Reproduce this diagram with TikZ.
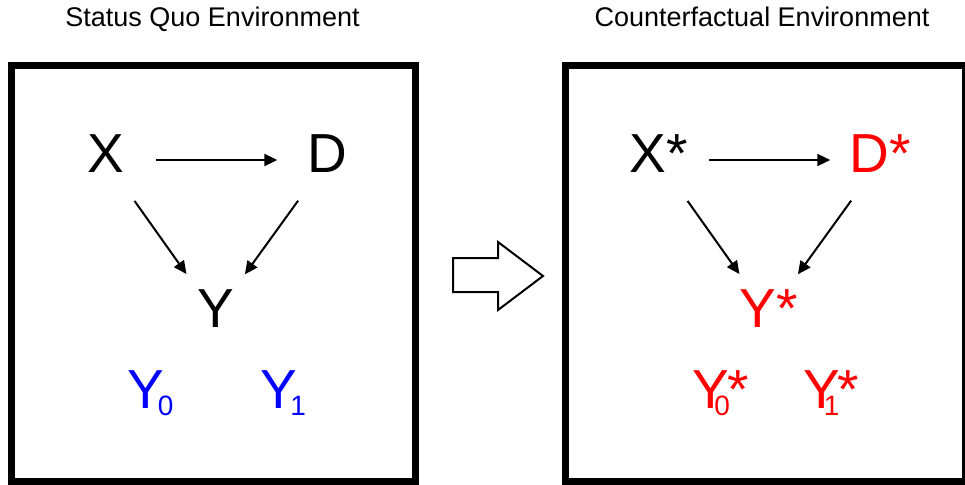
\documentclass[tikz,border=0pt]{standalone}
\usepackage{fontspec}
\setmainfont{Liberation Sans}
\usepackage{xcolor}
\definecolor{sqblue}{RGB}{0, 0, 255}
\definecolor{cfred}{RGB}{255, 0, 0}
\usetikzlibrary{arrows.meta}
\newcommand{\subidx}[2]{\kern#1\raisebox{-7pt}{\fontsize{28}{28}\selectfont #2}}

\begin{document}
\begin{tikzpicture}[
    x=1pt, y=-1pt,
    title/.style={anchor=base, inner sep=0pt, font=\fontsize{27}{27}\selectfont},
    frame/.style={draw, line width=7pt, inner sep=0pt},
    var/.style={circle, minimum size=100pt, inner sep=0pt,
                text height=39.4pt, text depth=14pt,
                font=\fontsize{55}{55}\selectfont},
    pot/.style={anchor=base west, inner sep=0pt,
                font=\fontsize{55}{55}\selectfont},
    arr/.style={-{Triangle[length=13pt, width=12pt]}, line width=2pt}
  ]
  \useasboundingbox (0,0) rectangle (965,484);

  % status quo
  \node[title] (sqtitle) at (212.5,27) {Status Quo Environment};
  \node[frame, minimum width=403.5pt, minimum height=415pt] (sqbox) at (213.25,273.5) {};
  \node[var] (X) at (105.5,160) {X};
  \node[var] (D) at (327.5,160) {D};
  \node[var] (Y) at (215.5,315) {Y};
  \node[pot, sqblue] (Y0) at (127,408) {Y\subidx{-6pt}{0}};
  \node[pot, sqblue] (Y1) at (260,408) {Y\subidx{-6.5pt}{1}};

  \draw[arr] (X) -- (D);
  \draw[arr] (X) -- (Y);
  \draw[arr] (D) -- (Y);

  % shift arrow
  \draw[line width=2pt, line join=miter] (453,258) -- (498,258) -- (498,242)
    -- (543,276) -- (498,310) -- (498,292) -- (453,292) -- cycle;

  % counterfactual
  \node[title] (cftitle) at (762,27) {Counterfactual Environment};
  \node[frame, minimum width=400.5pt, minimum height=415pt] (cfbox) at (765.25,273.5) {};
  \node[var] (Xs) at (658.5,160) {X*};
  \node[var, cfred] (Ds) at (880.5,160) {D*};
  \node[var, cfred] (Ys) at (768.5,315) {Y*};
  \node[pot, cfred] (Ys0) at (692,408) {Y\subidx{-14.5pt}{0}\kern-2pt*};
  \node[pot, cfred] (Ys1) at (803,408) {Y\subidx{-16pt}{1}\kern-2pt*};

  \draw[arr] (Xs) -- (Ds);
  \draw[arr] (Xs) -- (Ys);
  \draw[arr] (Ds) -- (Ys);
\end{tikzpicture}
\end{document}
